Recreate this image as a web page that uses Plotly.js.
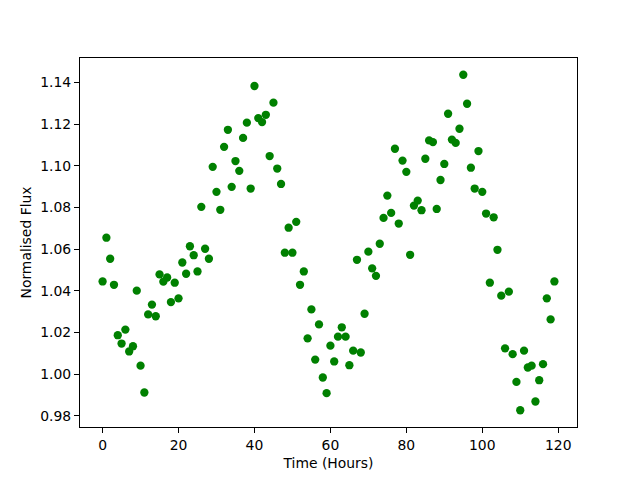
<!DOCTYPE html>
<html>
<head>
<meta charset="utf-8">
<script src="https://cdn.plot.ly/plotly-3.0.1.min.js"></script>
<style>html,body{margin:0;padding:0;background:#fff;}#chart{width:640px;height:480px;}</style>
</head>
<body>
<div id="chart"></div>
<script>
const hours = [0,1,2,3,4,5,6,7,8,9,10,11,12,13,14,15,16,17,18,19,20,21,22,23,24,25,26,27,28,29,
  30,31,32,33,34,35,36,37,38,39,40,41,42,43,44,45,46,47,48,49,50,51,52,53,54,55,56,57,58,59,
  60,61,62,63,64,65,66,67,68,69,70,71,72,73,74,75,76,77,78,79,80,81,82,83,84,85,86,87,88,89,
  90,91,92,93,94,95,96,97,98,99,100,101,102,103,104,105,106,107,108,109,110,111,112,113,114,115,116,117,118,119];
const flux = [1.0445,1.0655,1.0554,1.0429,1.0187,1.0147,1.0214,1.0109,1.0134,1.0401,
  1.0041,0.9912,1.0287,1.0334,1.0278,1.0479,1.0444,1.0464,1.0346,1.0439,
  1.0364,1.0536,1.0482,1.0614,1.0571,1.0493,1.0803,1.0602,1.0554,1.0995,
  1.0875,1.0789,1.1091,1.1173,1.0899,1.1023,1.0976,1.1134,1.1207,1.0891,
  1.1383,1.1229,1.1210,1.1245,1.1047,1.1303,1.0987,1.0913,1.0583,1.0703,
  1.0583,1.0731,1.0429,1.0493,1.0172,1.0311,1.0070,1.0239,0.9984,0.9909,
  1.0137,1.0061,1.0180,1.0225,1.0180,1.0043,1.0113,1.0549,1.0104,1.0290,
  1.0588,1.0508,1.0472,1.0626,1.0750,1.0857,1.0774,1.1082,1.0723,1.1025,
  1.0971,1.0573,1.0809,1.0833,1.0787,1.1034,1.1122,1.1114,1.0793,1.0932,
  1.1009,1.1250,1.1126,1.1110,1.1178,1.1437,1.1298,1.0991,1.0891,1.1071,
  1.0875,1.0771,1.0439,1.0753,1.0597,1.0377,1.0124,1.0396,1.0096,0.9963,
  0.9827,1.0113,1.0032,1.0041,0.9869,0.9971,1.0048,1.0364,1.0263,1.0445];
const xLabel = "Time (Hours)";
const yLabel = "Normalised Flux";

function padRange(arr) {
  const lo = Math.min(...arr), hi = Math.max(...arr), m = 0.05 * (hi - lo);
  return [lo - m, hi + m];
}

const font = {family: "DejaVu Sans", size: 13.9, color: "#000"};
const axisCommon = {
  showline: true, mirror: true, linecolor: "#000", linewidth: 1,
  ticks: "outside", ticklen: 5, tickwidth: 1, tickcolor: "#000",
  showgrid: false, zeroline: false, tickfont: font
};

Plotly.newPlot("chart", [{
  x: hours, y: flux, type: "scatter", mode: "markers",
  marker: {color: "#008000", size: 8.3}
}], {
  width: 640, height: 480,
  margin: {l: 80, r: 63, t: 58, b: 53},
  paper_bgcolor: "#fff", plot_bgcolor: "#fff",
  font: font, showlegend: false,
  xaxis: Object.assign({}, axisCommon, {
    range: padRange(hours), dtick: 20, tick0: 0,
    title: {text: xLabel, font: font, standoff: 6}
  }),
  yaxis: Object.assign({}, axisCommon, {
    range: padRange(flux), dtick: 0.02, tick0: 0, tickformat: ".2f",
    title: {text: yLabel, font: font, standoff: 5}
  })
}, {displayModeBar: false, staticPlot: true});
</script>
</body>
</html>
